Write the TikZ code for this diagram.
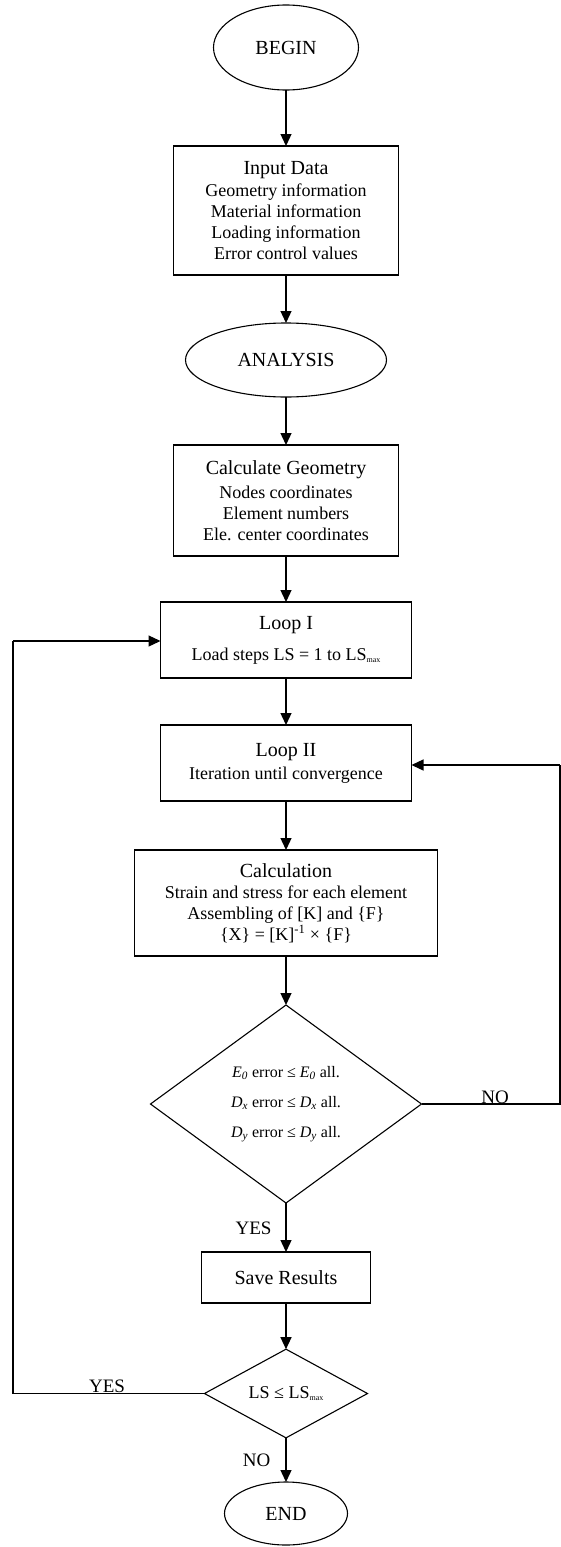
\documentclass[tikz,border=0pt]{standalone}
\usepackage{fontspec}
\setmainfont{Liberation Serif}
\usetikzlibrary{shapes.geometric,arrows.meta}
\newcommand{\bodyfs}{\fontsize{18}{21}\selectfont}
\newcommand{\titlefs}{\fontsize{20}{21}\selectfont}
\newcommand{\lsmax}{LS\raisebox{-2pt}{\fontsize{8}{8}\selectfont max}}
\tikzset{
  conn/.style={line width=1.3pt,-{Triangle[length=12pt,width=11pt]}},
  plainline/.style={line width=1.3pt},
  procbox/.style={draw,line width=1.3pt,rectangle,inner sep=0pt,outer sep=0pt,align=center,font=\bodyfs},
  termnode/.style={draw,line width=1.1pt,ellipse,inner sep=0pt,outer sep=0pt,font=\titlefs},
  decnode/.style={draw,line width=1.1pt,diamond,inner sep=0pt,outer sep=0pt,align=center},
  lbl/.style={inner sep=0pt,font=\fontsize{19}{21}\selectfont}
}
\begin{document}
\begin{tikzpicture}[x=1pt,y=-1pt]
\useasboundingbox (0,0) rectangle (561,1547);
\node[termnode,minimum width=145pt,minimum height=85pt] (begin) at (286,47.5) {BEGIN};
\node[procbox,minimum width=225pt,minimum height=129pt] (input) at (286,210.5)
  {{\titlefs Input Data}\\[1pt] Geometry information\\ Material information\\ Loading information\\ Error control values};
\node[termnode,minimum width=201pt,minimum height=74pt] (analysis) at (286,360) {ANALYSIS};
\node[procbox,minimum width=225pt,minimum height=111pt] (geom) at (286,500.5)
  {{\titlefs Calculate Geometry}\\[3pt] Nodes coordinates\\ Element numbers\\ Ele. center coordinates};
\node[procbox,minimum width=251pt,minimum height=76pt] (loop1) at (286,640)
  {{\titlefs Loop I}\\[10pt] Load steps LS = 1 to \lsmax};
\node[procbox,minimum width=251pt,minimum height=76pt] (loop2) at (286,763)
  {{\titlefs Loop II}\\[2pt] Iteration until convergence};
\node[procbox,minimum width=303pt,minimum height=106pt] (calc) at (286,903)
  {{\titlefs Calculation}\\ Strain and stress for each element\\ Assembling of [K] and \{F\}\\ \{X\} = [K]\textsuperscript{-1} × \{F\}};
\node[decnode,minimum width=271pt,minimum height=198pt,font=\fontsize{16}{30}\selectfont] (dec1) at (286,1104)
  {\textit{E}\textsubscript{\textit{0}} error ≤ \textit{E}\textsubscript{\textit{0}} all.\\
   \textit{D}\textsubscript{\textit{x}} error ≤ \textit{D}\textsubscript{\textit{x}} all.\\
   \textit{D}\textsubscript{\textit{y}} error ≤ \textit{D}\textsubscript{\textit{y}} all.};
\node[procbox,minimum width=169pt,minimum height=51pt,font=\titlefs] (save) at (286,1277.5) {Save Results};
\node[decnode,minimum width=163pt,minimum height=79pt,font=\bodyfs] (dec2) at (286,1393.5) {LS ≤ \lsmax};
\node[termnode,minimum width=123pt,minimum height=63pt] (end) at (286,1513.5) {END};

\draw[conn] (begin) -- (input);
\draw[conn] (input) -- (analysis);
\draw[conn] (analysis) -- (geom);
\draw[conn] (geom) -- (loop1);
\draw[conn] (loop1) -- (loop2);
\draw[conn] (loop2) -- (calc);
\draw[conn] (calc) -- (dec1);
\draw[conn] (dec1) -- (save);
\draw[conn] (save) -- (dec2);
\draw[conn] (dec2) -- (end);

\coordinate (r1) at (560,1104);
\coordinate (r2) at (560,765);
\draw[plainline] (dec1.east) -- (r1) -- (r2);
\draw[conn] (r2) -- (r2 -| loop2.east);
\coordinate (l1) at (13,1393.5);
\coordinate (l2) at (13,641);
\draw[plainline] (dec2.west) -- (l1) -- (l2);
\draw[conn] (l2) -- (l2 -| loop1.west);

\node[lbl,anchor=base] (no1) at (495,1103) {NO};
\node[lbl] (yes1) at (253.5,1228) {YES};
\node[lbl,anchor=base] (yes2) at (107,1392) {YES};
\node[lbl] (no2) at (256.5,1460) {NO};
\end{tikzpicture}
\end{document}
